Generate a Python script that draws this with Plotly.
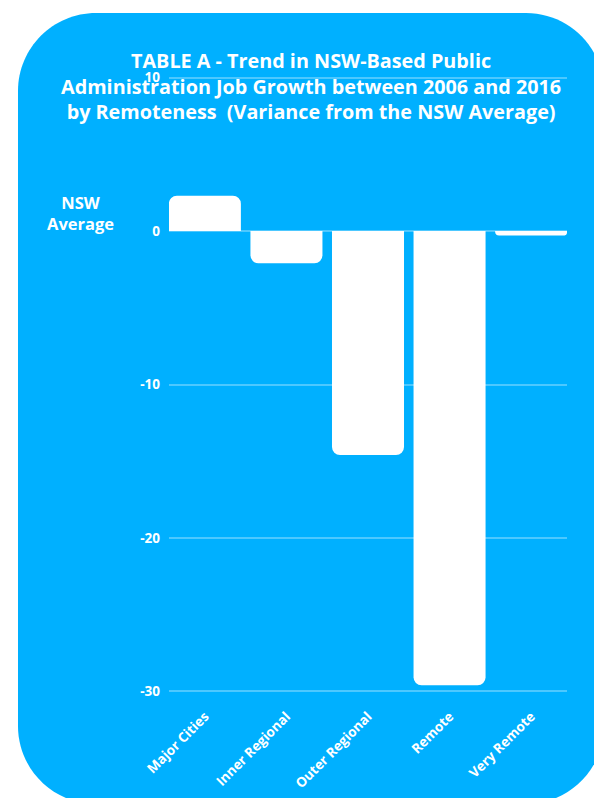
import plotly.graph_objects as go

categories = ["Major Cities", "Inner Regional", "Outer Regional", "Remote", "Very Remote"]
variance = [2.3, -2.1, -14.6, -29.6, -0.3]
tick_vals = [10, 0, -10, -20, -30]
tick_text = ["10", "0", "-10", "-20", "-30"]

W, H = 594, 798
L, R, T, B = 169, 27, 70, 93
PW, PH = W - L - R, H - T - B

def px(x):
    return (x - L) / PW

def py(y):
    return (H - B - y) / PH

def rounded_rect(x0, y0, x1, y1, r):
    k = 0.5523 * r
    p = lambda x, y: f"{px(x):.5f},{py(y):.5f}"
    path = f"M {p(x0 + r, y0)} L {p(x1 - r, y0)} "
    path += f"C {p(x1 - r + k, y0)} {p(x1, y0 + r - k)} {p(x1, y0 + r)} "
    path += f"L {p(x1, y1 - r)} "
    path += f"C {p(x1, y1 - r + k)} {p(x1 - r + k, y1)} {p(x1 - r, y1)} "
    path += f"L {p(x0 + r, y1)} "
    path += f"C {p(x0 + r - k, y1)} {p(x0, y1 - r + k)} {p(x0, y1 - r)} "
    path += f"L {p(x0, y0 + r)} "
    path += f"C {p(x0, y0 + r - k)} {p(x0 + r - k, y0)} {p(x0 + r, y0)} Z"
    return path

BLUE = "#00B0FF"
FONT = "Open Sans"

fig = go.Figure(
    go.Bar(
        x=categories,
        y=variance,
        marker=dict(color="white", line=dict(width=0)),
        hoverinfo="skip",
    )
)

fig.update_layout(
    width=W,
    height=H,
    margin=dict(l=L, r=R, t=T, b=B, autoexpand=False),
    paper_bgcolor="white",
    plot_bgcolor="rgba(0,0,0,0)",
    showlegend=False,
    bargap=0.117,
    barcornerradius=8,
    font=dict(family=FONT, color="white"),
    shapes=[
        dict(
            type="path",
            xref="paper",
            yref="paper",
            path=rounded_rect(18, 13, 604, 804, 78),
            fillcolor=BLUE,
            line=dict(width=0),
            layer="below",
        )
    ],
    annotations=[
        dict(
            text="TABLE A - Trend in NSW-Based Public<br>Administration Job Growth between 2006 and 2016<br>by Remoteness  (Variance from the NSW Average)",
            xref="paper",
            yref="paper",
            x=px(311),
            y=py(45),
            xanchor="center",
            yanchor="top",
            showarrow=False,
            font=dict(family=FONT, size=19.8, color="white", weight="bold"),
            align="center",
        ),
        dict(
            text="NSW<br>Average",
            xref="paper",
            yref="paper",
            x=px(80),
            y=py(213),
            xanchor="center",
            yanchor="middle",
            showarrow=False,
            font=dict(family=FONT, size=16.5, color="white", weight="bold"),
            align="center",
        ),
    ],
)

fig.update_xaxes(
    type="category",
    range=[-0.44, 4.44],
    tickangle=-45,
    tickfont=dict(family=FONT, size=13.5, color="white", weight="bold"),
    showgrid=False,
    showline=False,
    ticks="",
    automargin=False,
)
fig.update_yaxes(
    range=[-30.88, 10.49],
    tickvals=tick_vals,
    ticktext=tick_text,
    tickfont=dict(family=FONT, size=13.5, color="white", weight="bold"),
    showgrid=True,
    gridcolor="rgba(255,255,255,0.3)",
    gridwidth=1.5,
    zeroline=True,
    zerolinecolor="rgba(255,255,255,0.3)",
    zerolinewidth=1.5,
    showline=False,
    ticks="",
    ticklabelstandoff=8,
    automargin=False,
)

fig.write_html("out.html")
